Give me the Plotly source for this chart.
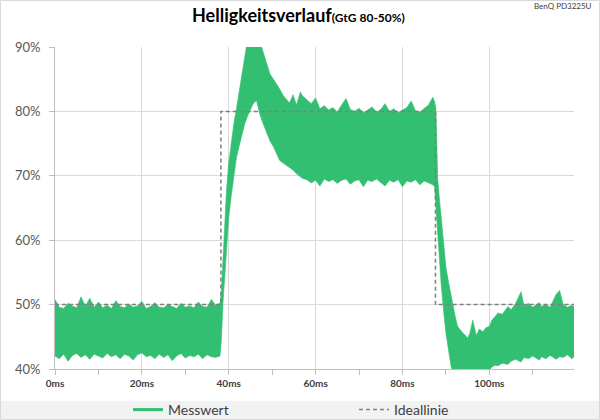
import plotly.graph_objects as go

# ---- data ----
# sample times (ms) of the measured signal envelope
band_t = list(range(0, 38)) + [
    38.0, 38.3, 38.7, 39.1, 39.5, 40.0, 40.6, 41.2, 41.8, 42.4, 43.0, 43.7, 44.3, 45.0, 45.6,
    46.4, 47.1, 47.8, 48.7, 49.5, 50.3, 51.0, 51.7, 52.5, 53.3, 54.0, 54.8, 55.6, 56.5, 57.0,
] + list(range(58, 88)) + [
    87.4, 87.7, 88.1, 88.5, 88.9, 89.4, 90.0, 90.6, 91.2, 91.6, 92.2, 92.7, 93.3, 93.9, 94.5,
    95.0, 95.5, 96.2, 97.0, 97.7, 98.5, 99.2, 100.0, 100.6, 101.3, 102.0, 103.0, 104.3, 105.0,
    106.0, 107.3, 108.0, 109.0, 110.0, 111.5, 112.0, 113.0, 114.0, 115.4, 116.2, 117.0, 118.0,
    119.0, 119.5,
]

# upper envelope of "Messwert" (%)
band_hi = [
    50.8, 49.6, 49.4, 50.2, 49.8, 49.5, 51.2, 49.7, 51.0, 49.6, 50.4, 49.5, 49.9, 49.4, 50.6,
    49.7, 49.5, 50.1, 49.6, 49.8, 50.5, 49.4, 49.7, 50.3, 49.6, 49.5, 50.0, 49.7, 49.4, 50.2,
    49.6, 49.8, 49.5, 50.4, 49.7, 49.6, 50.8, 49.9,
    50.2, 52.0, 57.4, 63.0, 67.8, 72.0, 75.5, 78.2, 80.5, 83.0, 85.5, 88.5, 91.0, 92.0, 92.5,
    92.0, 91.0, 89.5, 87.5, 85.8, 85.0, 84.3, 83.5, 82.5, 81.8, 81.3, 82.6, 81.0, 83.0, 82.4,
    81.8, 81.2, 82.1, 80.4, 80.9, 80.2, 80.6, 79.9, 81.0, 82.0, 80.3, 80.0, 80.5, 79.8, 80.2,
    80.7, 79.9, 80.3, 81.2, 80.0, 80.4, 79.8, 80.2, 80.6, 81.6, 80.1, 79.9, 80.5, 81.0, 82.2,
    81.5, 80.5, 69.8, 66.5, 63.6, 60.0, 55.9, 53.5, 51.2, 49.7, 48.0, 46.6, 46.0, 45.6, 45.2,
    44.8, 45.5, 47.6, 45.2, 46.2, 45.8, 46.4, 46.6, 47.6, 48.1, 48.7, 48.5, 49.7, 49.2,
    50.1, 52.0, 49.8, 50.2, 49.6, 50.3, 49.7, 50.0, 49.6, 51.6, 52.2, 50.0, 49.6,
    49.9, 49.7,
]

# lower envelope of "Messwert" (%)
band_lo = [
    42.0, 41.6, 42.3, 41.2, 42.1, 42.4, 41.8, 42.2, 41.5, 42.3, 42.0, 41.7, 42.4, 41.9, 42.2,
    41.6, 42.3, 42.0, 41.4, 42.2, 42.5, 41.9, 42.1, 41.6, 42.3, 41.8, 42.2, 41.3, 42.0, 42.4,
    41.7, 42.1, 41.9, 42.3, 41.6, 42.2, 41.9, 41.8,
    42.0, 44.5, 50.5, 54.9, 58.8, 63.5, 67.0, 70.0, 72.9, 74.6, 76.2, 78.1, 79.2, 80.3, 81.2,
    81.7, 79.7, 78.3, 76.6, 75.4, 74.5, 73.5, 72.4, 72.0, 71.6, 71.2, 70.9, 70.3, 69.8, 69.6,
    69.4, 68.9, 69.3, 68.4, 69.5, 69.1, 69.4, 68.8, 69.3, 69.5, 68.7, 69.2, 69.4, 68.3, 69.3,
    69.1, 69.5, 68.9, 68.4, 69.3, 69.0, 69.4, 68.3, 69.2, 69.0, 69.4, 68.6, 69.2, 68.9, 68.6,
    68.3, 65.0, 61.1, 57.0, 53.3, 49.5, 45.6, 43.0, 40.4, 39.5, 38.5, 38.0, 38.0, 38.0, 38.0,
    38.0, 38.0, 38.0, 38.0, 38.2, 38.6, 39.2, 39.8, 40.3, 40.6, 40.5, 40.9, 40.7, 41.2,
    41.5, 41.1, 41.8, 41.6, 42.0, 41.4, 41.9, 41.6, 42.1, 41.5, 41.9, 41.8, 42.2,
    41.6, 41.9,
]

# ideal step response ("Ideallinie")
ideal_t = [0, 38.2, 38.2, 87.6, 87.6, 119.5]
ideal_v = [50, 50, 80, 80, 50, 50]

x_ticks = [0, 20, 40, 60, 80, 100]
x_tick_labels = ["0ms", "20ms", "40ms", "60ms", "80ms", "100ms"]
y_ticks = [40, 50, 60, 70, 80, 90]
y_tick_labels = ["40%", "50%", "60%", "70%", "80%", "90%"]

title_main = "Helligkeitsverlauf"
title_sub = "(GtG 80-50%)"
model_label = "BenQ PD3225U"
series_names = ["Messwert", "Ideallinie"]

GREEN = "#33bf71"
GRID = "#d9d9d9"
AXIS = "#bfbfbf"
TXT = "#404040"
FONT = "Lato"

W, H = 600, 420
ML, MR, MT, MB = 55, 26, 47, 51
PW, PH = W - ML - MR, H - MT - MB

fig = go.Figure()

fig.add_trace(go.Scatter(x=band_t, y=band_lo, mode="lines",
                         line=dict(color=GREEN, width=0.6),
                         showlegend=False, hoverinfo="skip"))
fig.add_trace(go.Scatter(x=band_t, y=band_hi, mode="lines", fill="tonexty",
                         fillcolor=GREEN, line=dict(color=GREEN, width=0.6),
                         showlegend=False, hoverinfo="skip"))
# legend entry for the measured series
fig.add_trace(go.Scatter(x=[None], y=[None], mode="lines", name=series_names[0],
                         line=dict(color=GREEN, width=3), legend="legend"))
fig.add_trace(go.Scatter(x=ideal_t, y=ideal_v, mode="lines", name=series_names[1],
                         line=dict(color="#7f7f7f", width=1.5, dash="4px,3px"),
                         legend="legend2"))

shapes = [
    # legend band
    dict(type="rect", xref="paper", yref="paper",
         x0=-ML / PW, x1=1 + MR / PW, y0=-MB / PH, y1=-(401 - (MT + PH)) / PH,
         fillcolor="#f2f2f2", line=dict(width=0), layer="below"),
    # outer chart border
    dict(type="rect", xref="paper", yref="paper",
         x0=(-ML + 0.5) / PW, x1=1 + (MR - 0.5) / PW,
         y0=(-MB + 0.5) / PH, y1=1 + (MT - 0.5) / PH,
         line=dict(color="#d9d9d9", width=1), fillcolor="rgba(0,0,0,0)"),
]

annotations = [
    dict(text=f"<b>{title_main}</b><b><span style='font-size:12px'>{title_sub}</span></b>",
         xref="paper", yref="paper", x=(298 - ML) / PW, y=1 + (MT - 15) / PH,
         xanchor="center", yanchor="middle", showarrow=False,
         font=dict(family=FONT, size=18, color="#000000")),
    dict(text=model_label, xref="paper", yref="paper",
         x=1 + (MR - 6) / PW, y=1 + (MT - 6) / PH, xanchor="right", yanchor="middle",
         showarrow=False, font=dict(family=FONT, size=8, color=TXT)),
]

fig.update_layout(
    width=W, height=H, autosize=False,
    margin=dict(l=ML, r=MR, t=MT, b=MB, pad=0, autoexpand=False),
    paper_bgcolor="white", plot_bgcolor="white",
    shapes=shapes, annotations=annotations,
    showlegend=True,
    legend=dict(orientation="h", xref="container", yref="container",
                x=128 / W, y=1 - 410 / H, xanchor="left", yanchor="middle",
                bgcolor="rgba(0,0,0,0)", font=dict(family=FONT, size=14, color=TXT)),
    legend2=dict(orientation="h", xref="container", yref="container",
                 x=354 / W, y=1 - 410 / H, xanchor="left", yanchor="middle",
                 bgcolor="rgba(0,0,0,0)", font=dict(family=FONT, size=14, color=TXT)),
    xaxis=dict(range=[0, 119.5], tickvals=x_ticks, ticktext=x_tick_labels,
               automargin=False,
               showgrid=True, gridcolor=GRID, gridwidth=1, zeroline=False,
               showline=True, linecolor=AXIS, linewidth=1,
               ticks="outside", ticklen=5, tickcolor=AXIS,
               minor=dict(dtick=10, tick0=0, ticks="outside", ticklen=5,
                          tickcolor=AXIS, showgrid=False),
               tickfont=dict(family=FONT, size=10, color=TXT, weight="bold")),
    yaxis=dict(range=[40, 90], tickvals=y_ticks, ticktext=y_tick_labels,
               automargin=False,
               showgrid=True, gridcolor=GRID, gridwidth=1, zeroline=False,
               showline=True, linecolor=AXIS, linewidth=1,
               ticks="outside", ticklen=5, tickcolor=AXIS, ticklabelstandoff=6,
               tickfont=dict(family=FONT, size=13, color="#595959")),
)

fig.write_html("out.html",
               config={"displayModeBar": False, "responsive": False},
               post_script="document.body.style.margin='0';document.body.style.overflow='hidden';")
